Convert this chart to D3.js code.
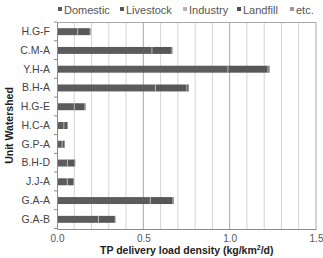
<!DOCTYPE html>
<html>
<head>
<meta charset="utf-8">
<script src="https://cdn.jsdelivr.net/npm/d3@7"></script>
<style>
  body { margin: 0; background: #fff; }
  text { font-family: "Liberation Sans", Arial, sans-serif; }
</style>
</head>
<body>
<svg id="chart" width="323" height="258"></svg>
<script>
// watershed names, top to bottom
var watersheds = ['H.G-F', 'C.M-A', 'Y.H-A', 'B.H-A', 'H.G-E', 'H.C-A', 'G.P-A', 'B.H-D', 'J.J-A', 'G.A-A', 'G.A-B'];

// load per source (kg/km2/d)
var domestic  = [0.12, 0.55, 0.99, 0.57, 0.10, 0.04, 0.03, 0.06, 0.06, 0.54, 0.24];
var livestock = [0.07, 0.11, 0.23, 0.18, 0.06, 0.02, 0.013, 0.04, 0.035, 0.13, 0.095];
var industry  = [0.002, 0.003, 0.005, 0.004, 0.002, 0.001, 0.001, 0.002, 0.002, 0.003, 0.002];
var landfill  = [0.002, 0.003, 0.004, 0.005, 0.002, 0.001, 0.001, 0.002, 0.001, 0.002, 0.001];
var etc       = [0.001, 0.003, 0.003, 0.005, 0.002, 0.001, 0.001, 0.002, 0.001, 0.002, 0.001];

var sources = ['Domestic', 'Livestock', 'Industry', 'Landfill', 'etc.'];
var xTicks = [0, 0.5, 1.0, 1.5];

var colors = {
  'Domestic': '#5c5c5c',
  'Livestock': '#575757',
  'Industry': '#8a8a8a',
  'Landfill': '#4e4e4e',
  'etc.': '#7a7a7a'
};
var legendColors = {
  'Domestic': '#5c5c5c',
  'Livestock': '#575757',
  'Industry': '#b4b4b4',
  'Landfill': '#4e4e4e',
  'etc.': '#9a9a9a'
};

var rows = watersheds.map(function(w, i) {
  return {
    name: w,
    'Domestic': domestic[i],
    'Livestock': livestock[i],
    'Industry': industry[i],
    'Landfill': landfill[i],
    'etc.': etc[i]
  };
});

var margin = {top: 22, right: 7, bottom: 29, left: 57};
var svg = d3.select('#chart');
var width = 323 - margin.left - margin.right;
var height = 258 - margin.top - margin.bottom;

var g = svg.append('g')
  .attr('transform', 'translate(' + margin.left + ',' + margin.top + ')');

var x = d3.scaleLinear().domain([0, 1.5]).range([0, width]);
var y = d3.scaleBand().domain(watersheds).range([0, height]).paddingInner(0.63).paddingOuter(0.33);

// minor gridlines every 0.1
g.selectAll('line.minor')
  .data(d3.range(1, 15).map(function(i) { return i / 10; }).filter(function(v) { return Math.round(v * 10) % 5 !== 0; }))
  .enter().append('line')
    .attr('class', 'minor')
    .attr('x1', x).attr('x2', x)
    .attr('y1', 0).attr('y2', height)
    .attr('stroke', '#d4d4d4')
    .attr('stroke-width', 1);

// major gridlines
g.selectAll('line.major')
  .data([0.5, 1.0, 1.5])
  .enter().append('line')
    .attr('class', 'major')
    .attr('x1', x).attr('x2', x)
    .attr('y1', 0).attr('y2', height)
    .attr('stroke', '#a8a8a8')
    .attr('stroke-width', 1);

// top border
g.append('line')
  .attr('x1', 0).attr('x2', width)
  .attr('y1', 0.5).attr('y2', 0.5)
  .attr('stroke', '#a8a8a8');

var stacked = d3.stack().keys(sources)(rows);

g.selectAll('g.series')
  .data(stacked)
  .enter().append('g')
    .attr('class', 'series')
    .attr('fill', function(d) { return colors[d.key]; })
  .selectAll('rect')
  .data(function(d) { return d; })
  .enter().append('rect')
    .attr('x', function(d) { return x(d[0]); })
    .attr('y', function(d) { return y(d.data.name); })
    .attr('width', function(d) { return Math.max(0, x(d[1]) - x(d[0])); })
    .attr('height', y.bandwidth());

// light seam between Domestic and Livestock
g.selectAll('line.seam')
  .data(stacked[1])
  .enter().append('line')
    .attr('class', 'seam')
    .attr('x1', function(d) { return x(d[0]); })
    .attr('x2', function(d) { return x(d[0]); })
    .attr('y1', function(d) { return y(d.data.name); })
    .attr('y2', function(d) { return y(d.data.name) + y.bandwidth(); })
    .attr('stroke', '#c8c8c8')
    .attr('stroke-width', 0.8);

// axes
var xAxis = g.append('g')
  .attr('transform', 'translate(0,' + height + ')')
  .call(d3.axisBottom(x).tickValues(xTicks).tickFormat(d3.format('.1f')).tickSize(0).tickPadding(6));
xAxis.select('.domain').attr('stroke', '#8a8a8a');
xAxis.selectAll('text').attr('font-size', 10).attr('fill', '#555');

var yAxis = g.append('g')
  .call(d3.axisLeft(y).tickSize(0).tickPadding(7));
yAxis.select('.domain').attr('stroke', '#8a8a8a');
yAxis.selectAll('text').attr('font-size', 10.5).attr('fill', '#444');

// small ticks between categories
var step = y.step();
var firstEdge = y(watersheds[0]) - (y.paddingOuter() + y.paddingInner() / 2) * step + y.paddingInner() / 2 * step;
g.selectAll('line.ytick')
  .data(d3.range(0, watersheds.length + 1))
  .enter().append('line')
    .attr('class', 'ytick')
    .attr('x1', -3).attr('x2', 0)
    .attr('y1', function(i) { return firstEdge + i * step; })
    .attr('y2', function(i) { return firstEdge + i * step; })
    .attr('stroke', '#8a8a8a');

// legend
var legendX = [58, 120, 183, 237, 290];
var legend = svg.selectAll('g.legend')
  .data(sources)
  .enter().append('g')
    .attr('class', 'legend')
    .attr('transform', function(d, i) { return 'translate(' + legendX[i] + ',10)'; });
legend.append('rect')
  .attr('x', 0).attr('y', -3)
  .attr('width', 4).attr('height', 4)
  .attr('fill', function(d) { return legendColors[d]; });
legend.append('text')
  .attr('x', 6).attr('y', 3.5)
  .attr('font-size', 11)
  .attr('fill', '#555')
  .text(function(d) { return d; });

// axis titles
svg.append('text')
  .attr('x', 100).attr('y', 254)
  .attr('font-size', 10.5)
  .attr('font-weight', 'bold')
  .attr('fill', '#222')
  .html('TP delivery load density (kg/km<tspan dy="-4" font-size="7">2</tspan><tspan dy="4">/d)</tspan>');

svg.append('text')
  .attr('transform', 'translate(13,' + (margin.top + height / 2) + ') rotate(-90)')
  .attr('text-anchor', 'middle')
  .attr('font-size', 10.5)
  .attr('font-weight', 'bold')
  .attr('fill', '#222')
  .text('Unit Watershed');
</script>
</body>
</html>
